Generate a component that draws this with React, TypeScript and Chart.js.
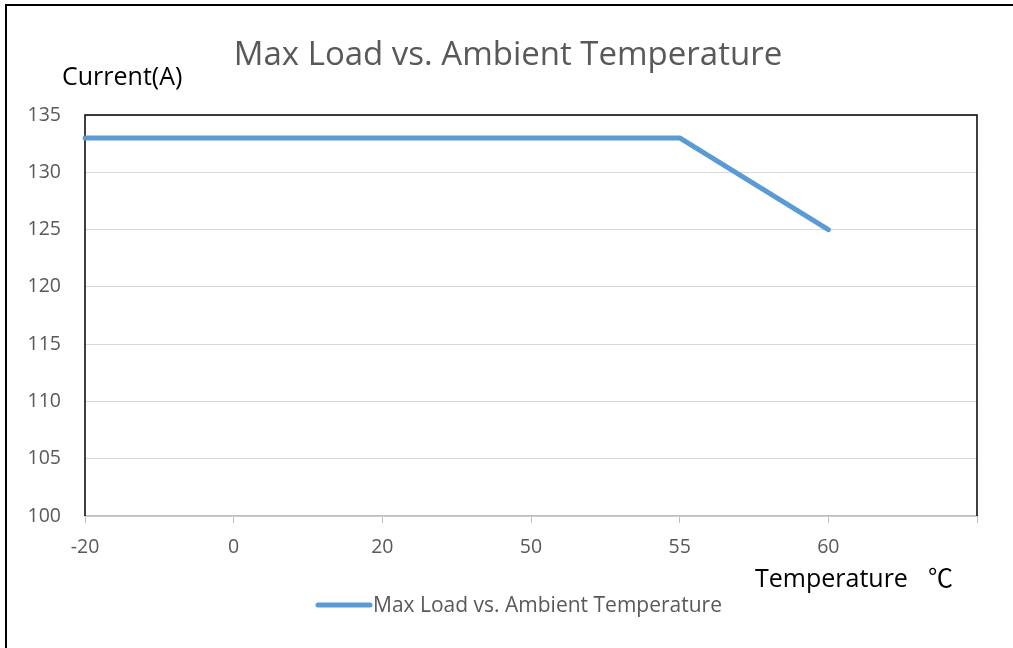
import React, { useEffect, useRef } from "react";
import { Chart, registerables } from "chart.js";

Chart.register(...registerables);

const categories = ["-20", "0", "20", "50", "55", "60", ""];
const currentValues = [133, 133, 133, 133, 133, 125];
const seriesName = "Max Load vs. Ambient Temperature";
const chartTitle = "Max Load vs. Ambient Temperature";
const yAxisTitle = "Current(A)";
const xAxisTitle = "Temperature";
const xAxisUnit = "℃";
const yMin = 100;
const yMax = 135;
const yStep = 5;

const FONT = "'Open Sans', 'Noto Sans CJK SC', sans-serif";
const LINE_COLOR = "#5B9BD5";

const decorPlugin = {
  id: "decor",
  beforeDatasetsDraw(chart: any) {
    const { ctx, chartArea } = chart;
    ctx.save();
    ctx.strokeStyle = "#000";
    ctx.lineWidth = 1.5;
    ctx.beginPath();
    ctx.moveTo(chartArea.left, chartArea.bottom);
    ctx.lineTo(chartArea.left, chartArea.top);
    ctx.lineTo(chartArea.right, chartArea.top);
    ctx.lineTo(chartArea.right, chartArea.bottom);
    ctx.stroke();
    ctx.restore();
  },
  afterDraw(chart: any) {
    const { ctx } = chart;
    ctx.save();
    // outer frame
    ctx.strokeStyle = "#000";
    ctx.lineWidth = 2;
    ctx.beginPath();
    ctx.moveTo(6, 648);
    ctx.lineTo(6, 5);
    ctx.lineTo(1013, 5);
    ctx.stroke();

    // title
    ctx.fillStyle = "#595959";
    ctx.font = `33px ${FONT}`;
    ctx.textAlign = "center";
    ctx.textBaseline = "middle";
    ctx.fillText(chartTitle, 508, 56);

    // y axis title
    ctx.fillStyle = "#000";
    ctx.font = `25px ${FONT}`;
    ctx.textAlign = "left";
    ctx.fillText(yAxisTitle, 62, 78);

    // x axis title
    ctx.fillText(xAxisTitle, 755, 580);
    ctx.fillText(xAxisUnit, 928, 580);

    // legend
    ctx.strokeStyle = LINE_COLOR;
    ctx.lineWidth = 5;
    ctx.lineCap = "round";
    ctx.beginPath();
    ctx.moveTo(318, 605);
    ctx.lineTo(370, 605);
    ctx.stroke();
    ctx.fillStyle = "#595959";
    ctx.font = `21px ${FONT}`;
    ctx.fillText(seriesName, 373, 606);
    ctx.restore();
  },
};

export default function App() {
  const canvasRef = useRef<HTMLCanvasElement | null>(null);

  useEffect(() => {
    if (!canvasRef.current) return;
    const chart = new Chart(canvasRef.current, {
      type: "line",
      data: {
        labels: categories,
        datasets: [
          {
            label: seriesName,
            data: currentValues,
            borderColor: LINE_COLOR,
            backgroundColor: LINE_COLOR,
            borderWidth: 5,
            pointRadius: 0,
            pointHoverRadius: 0,
            tension: 0,
            borderJoinStyle: "round",
            borderCapStyle: "round",
          },
        ],
      },
      options: {
        animation: false,
        responsive: false,
        maintainAspectRatio: false,
        layout: { padding: { left: 0, top: 115, right: 36, bottom: 92 } },
        plugins: {
          legend: { display: false },
          title: { display: false },
          tooltip: { enabled: false },
        },
        scales: {
          x: {
            type: "category",
            offset: false,
            afterFit: (s: any) => {
              s.height = 40;
            },
            grid: {
              display: true,
              drawOnChartArea: false,
              drawTicks: true,
              tickLength: 7,
              color: "#BFBFBF",
              lineWidth: 1,
            },
            border: { display: true, color: "#BFBFBF", width: 1.5 },
            ticks: {
              color: "#595959",
              font: { family: FONT, size: 19.5 },
              padding: 13,
              autoSkip: false,
              maxRotation: 0,
            },
          },
          y: {
            min: yMin,
            max: yMax,
            afterFit: (s: any) => {
              s.width = 85;
            },
            grid: {
              display: true,
              drawTicks: false,
              color: "#D9D9D9",
              lineWidth: 1,
            },
            border: { display: false },
            ticks: {
              stepSize: yStep,
              color: "#595959",
              font: { family: FONT, size: 19.5 },
              padding: 24,
            },
          },
        },
      },
      plugins: [decorPlugin],
    });
    return () => chart.destroy();
  }, []);

  return (
    <div style={{ position: "absolute", left: 0, top: 0, width: 1013, height: 648, background: "#fff" }}>
      <canvas ref={canvasRef} width={1013} height={648} style={{ display: "block" }} />
    </div>
  );
}
